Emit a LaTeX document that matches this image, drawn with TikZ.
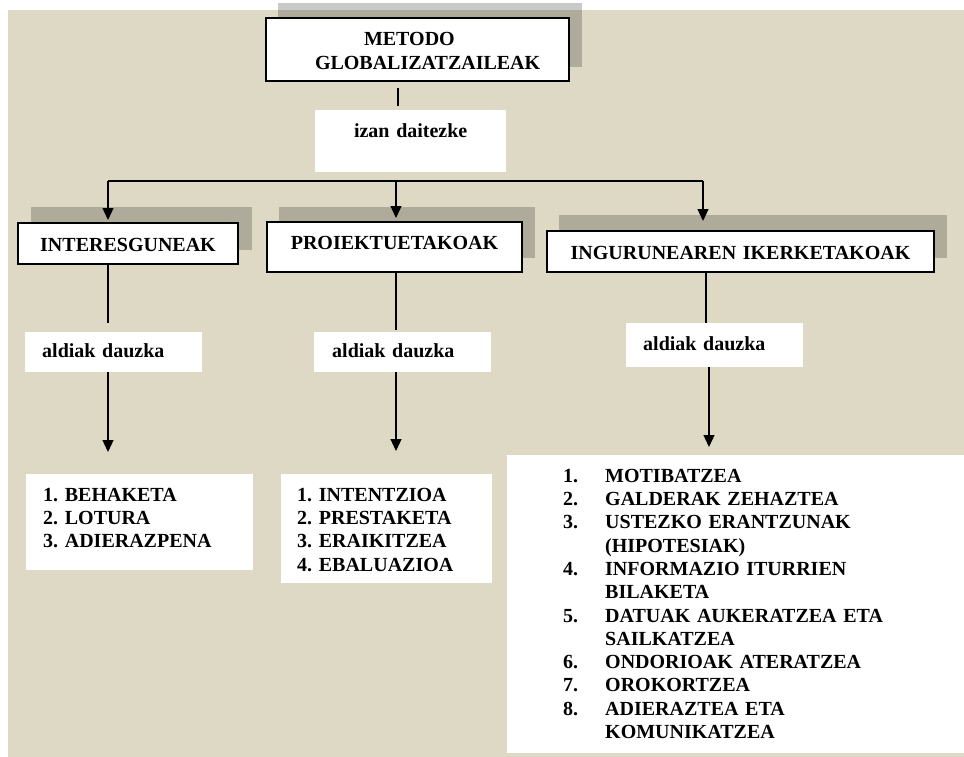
\documentclass[tikz,border=0pt]{standalone}
\usepackage{fontspec}
\setmainfont{Liberation Serif}
\usepackage{tikz}
\usetikzlibrary{arrows.meta}
\definecolor{beige}{RGB}{221,217,196}
\newcommand{\lnum}[1]{\makebox[42pt][l]{#1}}
\newcommand{\lcont}{\hspace*{42pt}}
\frenchspacing

\begin{document}
\begin{tikzpicture}[x=1pt, y=-1pt, >={Triangle[length=12pt,width=11pt]}]
  \tikzstyle{every node}=[font=\bfseries\fontsize{20}{23.3}\selectfont\frenchspacing, anchor=north west, inner sep=0pt];
  \tikzstyle{whitebox}=[fill=white, align=left];
  \tikzstyle{headbox}=[draw=black, line width=2pt, fill=white, align=center];
  \tikzstyle{greyshade}=[fill=black, fill opacity=0.21];
  \tikzstyle{link}=[line width=1.3pt];
  \tikzstyle{bar}=[line width=2.2pt];

  \useasboundingbox (0,0) rectangle (964,757);
  \fill[white] (0,0) rectangle (964,757);
  \fill[beige] (8,10) rectangle (964,757);

  \fill[greyshade] (278,3) rectangle (582,67);
  \fill[greyshade] (31,207) rectangle (252,250);
  \fill[greyshade] (279,207) rectangle (535,258);
  \fill[greyshade] (559,215) rectangle (947,258);

  \node[headbox, align=left, text width=303pt, text height=28pt, text depth=35pt] (Metodo) at (265,17) {\hspace*{98pt}METODO\\\hspace*{49pt}GLOBALIZATZAILEAK};
  \node[whitebox, align=center, text width=191pt, text height=27pt, text depth=35pt] (Izan) at (315,110) {izan daitezke};

  \node[headbox, text width=220pt, text height=28pt, text depth=13pt] (Interes) at (17,222) {INTERESGUNEAK};
  \node[headbox, text width=255pt, text height=27pt, text depth=23pt] (Proiekt) at (266,221) {PROIEKTUETAKOAK};
  \node[headbox, text width=387pt, text height=28pt, text depth=13pt] (Ingurune) at (546,230) {INGURUNEAREN IKERKETAKOAK};

  \node[whitebox, inner xsep=17pt, text width=143pt, text height=25pt, text depth=15pt] (AldiakA) at (25,332) {aldiak dauzka};
  \node[whitebox, inner xsep=18pt, text width=141pt, text height=25pt, text depth=15pt] (AldiakB) at (314,332) {aldiak dauzka};
  \node[whitebox, inner xsep=17pt, text width=143pt, text height=27pt, text depth=17pt] (AldiakC) at (626,323) {aldiak dauzka};

  \node[whitebox, inner xsep=17pt, text width=193pt, text height=27pt, text depth=69pt] (ListA) at (26,474)
    {1. BEHAKETA\\2. LOTURA\\3. ADIERAZPENA};
  \node[whitebox, inner xsep=16pt, text width=179pt, text height=27pt, text depth=82pt] (ListB) at (281,474)
    {1. INTENTZIOA\\2. PRESTAKETA\\3. ERAIKITZEA\\4. EBALUAZIOA};
  \node[whitebox, inner xsep=56pt, text width=345pt, text height=27pt, text depth=271pt] (ListC) at (507,455)
    {\lnum{1.}MOTIBATZEA\\
     \lnum{2.}GALDERAK ZEHAZTEA\\
     \lnum{3.}USTEZKO ERANTZUNAK\\
     \lcont(HIPOTESIAK)\\
     \lnum{4.}INFORMAZIO ITURRIEN\\
     \lcont BILAKETA\\
     \lnum{5.}DATUAK AUKERATZEA ETA\\
     \lcont SAILKATZEA\\
     \lnum{6.}ONDORIOAK ATERATZEA\\
     \lnum{7.}OROKORTZEA\\
     \lnum{8.}ADIERAZTEA ETA\\
     \lcont KOMUNIKATZEA};

  \coordinate (BarA) at (108,181);
  \coordinate (BarB) at (396,181);
  \coordinate (BarC) at (703,181);
  \coordinate (TopX) at (398,0);
  \coordinate (ColC) at (706,0);
  \coordinate (ColD) at (709,0);

  \draw[link, shorten <=6pt, shorten >=4pt] (TopX |- Metodo.south) -- (TopX |- Izan.north);
  \draw[bar] (BarA) -- (BarC);

  \draw[link, ->, shorten >=2pt] (BarA) -- (BarA |- Interes.north);
  \draw[link, ->, shorten >=3pt] (BarB) -- (BarB |- Proiekt.north);
  \draw[link, ->, shorten >=9pt] (BarC) -- (BarC |- Ingurune.north);

  \draw[link, shorten >=9pt] (BarA |- Interes.south) -- (BarA |- AldiakA.north);
  \draw[link, shorten >=2pt] (BarB |- Proiekt.south) -- (BarB |- AldiakB.north);
  \draw[link] (ColC |- Ingurune.south) -- (ColC |- AldiakC.north);

  \draw[link, ->, shorten >=22pt] (BarA |- AldiakA.south) -- (BarA |- ListA.north);
  \draw[link, ->, shorten >=23pt] (BarB |- AldiakB.south) -- (BarB |- ListB.north);
  \draw[link, ->, shorten >=8pt] (ColD |- AldiakC.south) -- (ColD |- ListC.north);
\end{tikzpicture}
\end{document}
